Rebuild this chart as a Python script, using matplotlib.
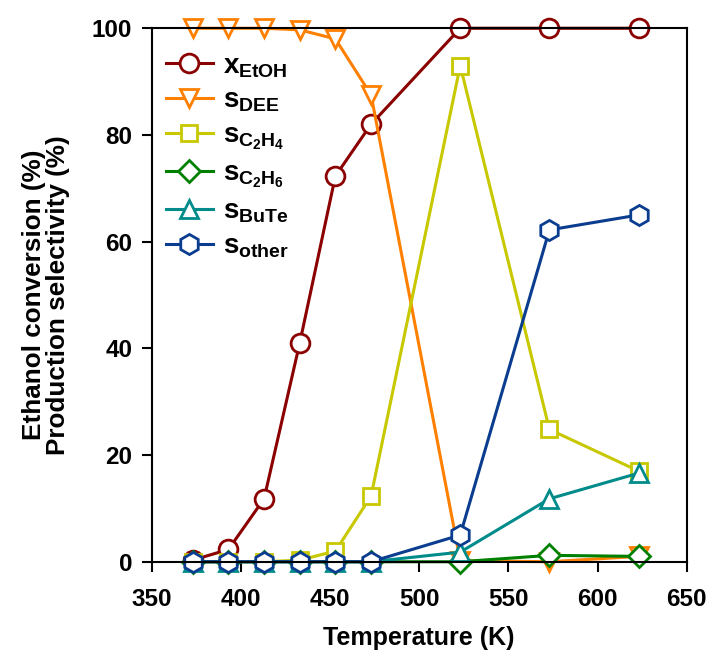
import matplotlib
matplotlib.use('Agg')
import matplotlib.pyplot as plt

plt.rcParams['font.family'] = ['Liberation Sans', 'DejaVu Sans']
plt.rcParams['font.weight'] = 'bold'
plt.rcParams['mathtext.fontset'] = 'custom'
plt.rcParams['mathtext.rm'] = 'Liberation Sans:bold'
plt.rcParams['mathtext.it'] = 'Liberation Sans:bold'
plt.rcParams['mathtext.bf'] = 'Liberation Sans:bold'

temps = [373, 393, 413, 433, 453, 473, 523, 573, 623]
x_etoh = [0.3, 2.3, 11.8, 41.0, 72.3, 82.0, 100, 100, 100]
s_dee = [100, 100, 100, 99.7, 98.0, 87.5, 0.2, 0.0, 1.0]
s_c2h4 = [0, 0, 0, 0.3, 2.0, 12.3, 93.0, 24.8, 17.0]
s_c2h6 = [0, 0, 0, 0, 0, 0, 0, 1.2, 1.0]
s_bute = [0, 0, 0, 0, 0, 0, 1.8, 11.8, 16.6]
s_other = [0, 0, 0, 0, 0, 0, 5.0, 62.2, 65.0]

series = [
    (x_etoh, r'$x_{EtOH}$', '#8b0000', 'o'),
    (s_dee, r'$s_{DEE}$', '#ff8000', 'v'),
    (s_c2h4, r'$s_{C_2H_4}$', '#c8c800', 's'),
    (s_c2h6, r'$s_{C_2H_6}$', '#008000', 'D'),
    (s_bute, r'$s_{BuTe}$', '#008b8b', '^'),
    (s_other, r'$s_{other}$', '#0a3d8f', 'h'),
]
msize = {'o': 13.5, 'v': 13.5, 's': 12, 'D': 11, '^': 13.5, 'h': 14.5}

fig = plt.figure(figsize=(7.10, 6.57), dpi=100)
ax = fig.add_axes([0.2137, 0.145, 0.7535, 0.812])

for vals, lab, col, mk in series:
    ax.plot(temps, vals, color=col, marker=mk, markersize=msize[mk],
            markerfacecolor='white', markeredgecolor=col, markeredgewidth=2,
            linewidth=2.2, label=lab, clip_on=False)

ax.set_xlim(350, 650)
ax.set_ylim(0, 100)
ax.set_xticks(range(350, 651, 50))
ax.set_yticks(range(0, 101, 20))
ax.tick_params(direction='out', length=7, width=1.5, labelsize=17.5)
ax.tick_params(axis='x', pad=12)
ax.tick_params(axis='y', pad=7)
for s in ax.spines.values():
    s.set_linewidth(1.5)

ax.set_xlabel('Temperature (K)', fontsize=18, fontweight='bold', labelpad=11)
ax.set_ylabel('Ethanol conversion (%)\nProduction selectivity (%)', fontsize=18.8,
              fontweight='bold', labelpad=16, linespacing=1.0)

ax.legend(loc='upper left', bbox_to_anchor=(-0.01, 0.99), frameon=False, fontsize=20,
          handlelength=1.7, labelspacing=0.3, handletextpad=0.35, borderaxespad=0.3)

fig.savefig('out.png', dpi=100)
